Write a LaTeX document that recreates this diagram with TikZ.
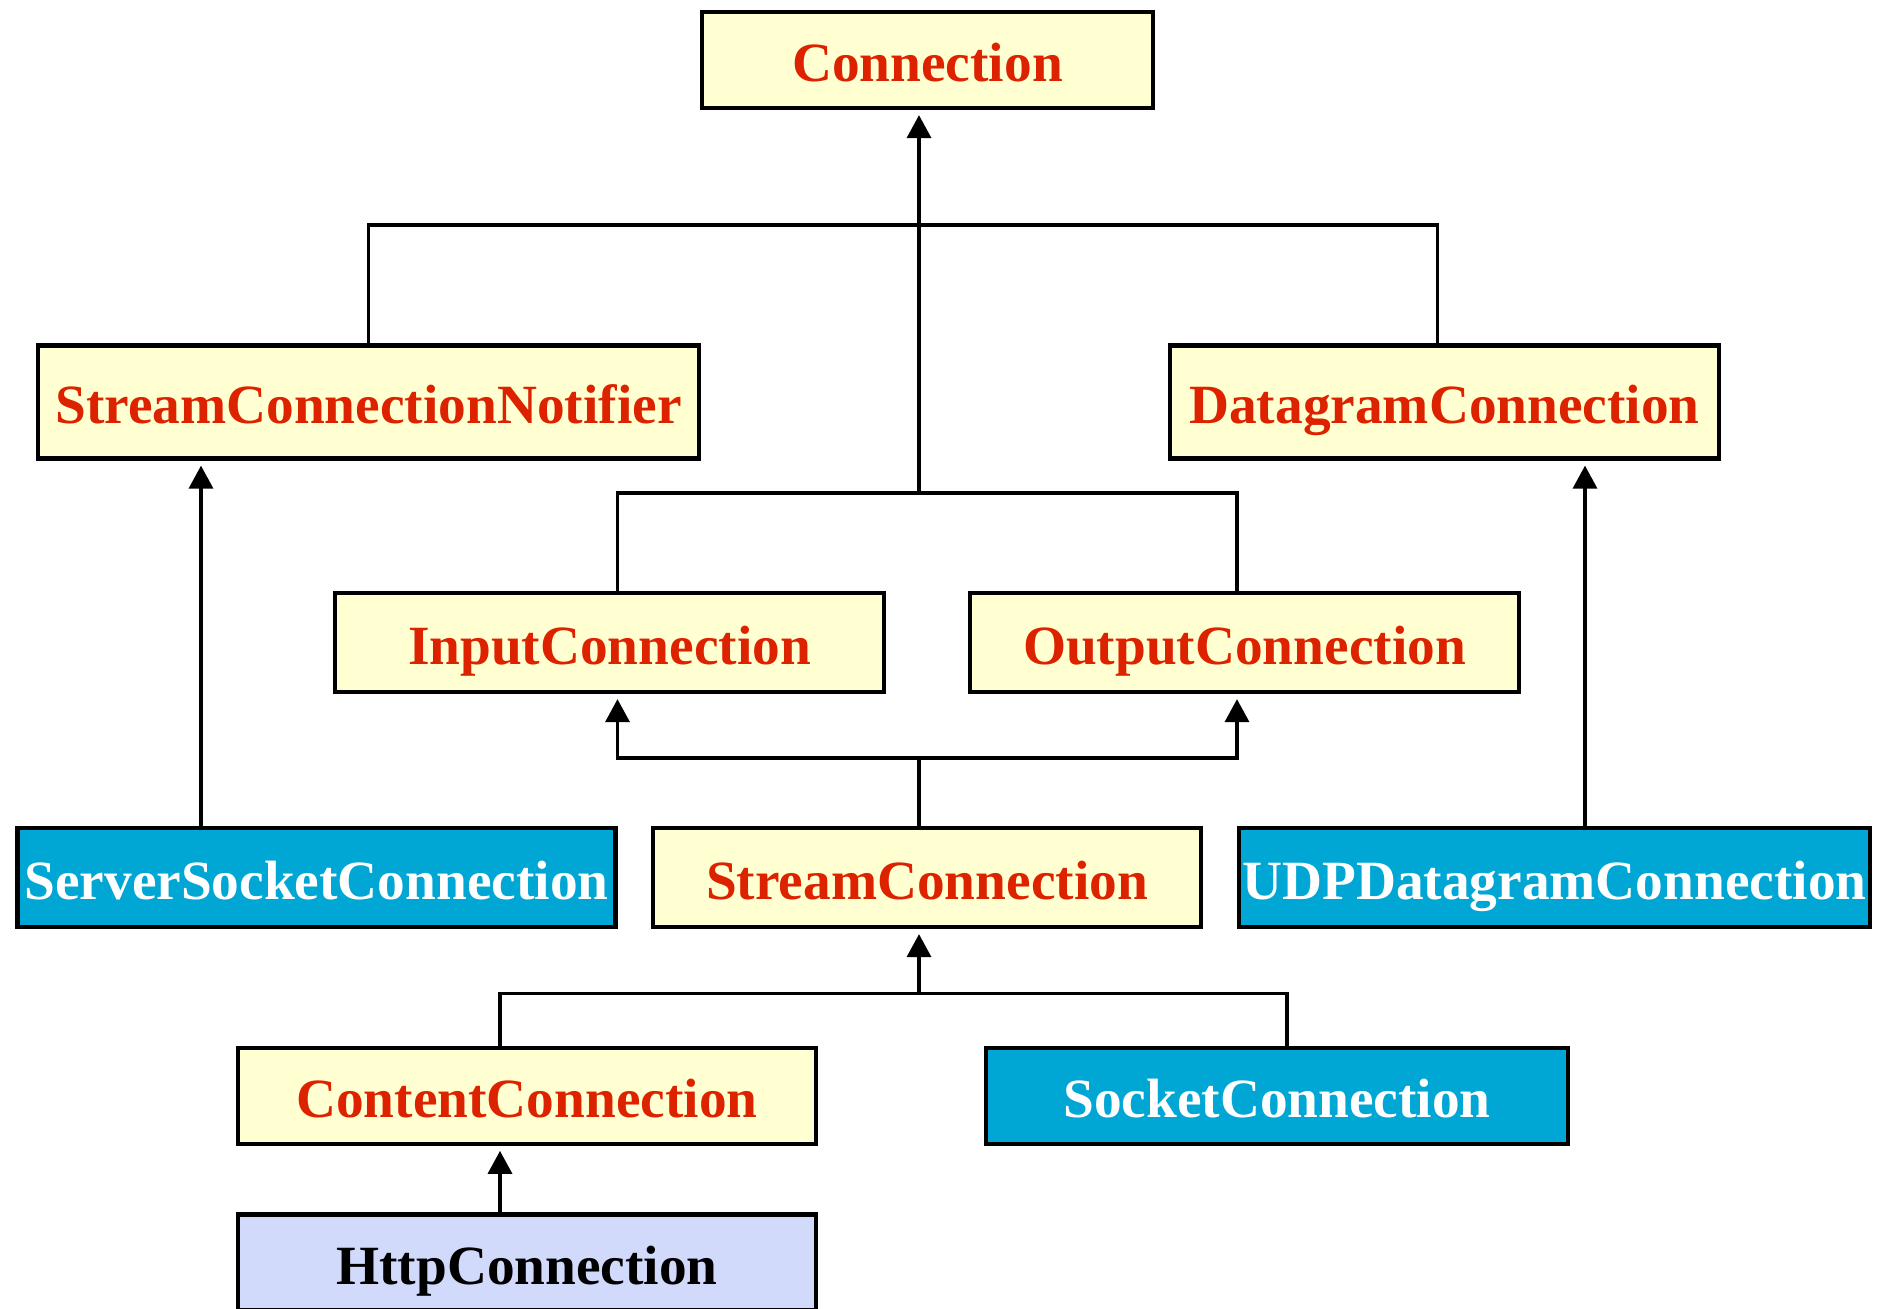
\documentclass[tikz,border=0pt]{standalone}
\usepackage{fontspec}
\setmainfont{Liberation Serif}
\usepackage{tikz}
\usetikzlibrary{arrows.meta,calc}
\usepackage{xcolor}
\definecolor{Cream}{HTML}{FFFFD2}
\definecolor{Vermilion}{HTML}{DD2200}
\definecolor{Cerulean}{HTML}{00A6D4}
\definecolor{Periwinkle}{HTML}{D2DAFC}
\tikzset{
  iface/.style={draw=black,line width=0.085cm,fill=Cream,text=Vermilion,
    font=\fontsize{31.5}{36}\selectfont\bfseries,inner sep=0pt,
    text height=24.5pt,text depth=0pt},
  impl/.style={iface,fill=Cerulean,text=white},
  http/.style={iface,fill=Periwinkle,text=black},
  link/.style={line width=0.07cm},
  isa/.style={link,-{Triangle[length=0.46cm,width=0.48cm]},shorten >=0.1cm}
}

\begin{document}
\begin{tikzpicture}
    \useasboundingbox (0,0) rectangle (37.54,-26.18);
    \clip (0,0) rectangle (37.54,-26.18);

    % interfaces
    \node[iface,minimum width=9.02cm,minimum height=1.92cm] (conn) at (18.55,-1.20) {Connection};
    \node[iface,minimum width=13.22cm,minimum height=2.26cm] (scn) at (7.37,-8.04) {StreamConnectionNotifier};
    \node[iface,minimum width=10.98cm,minimum height=2.26cm] (dgc) at (28.89,-8.04) {DatagramConnection};
    \node[iface,minimum width=10.98cm,minimum height=1.98cm] (inc) at (12.19,-12.85) {InputConnection};
    \node[iface,minimum width=10.98cm,minimum height=1.98cm] (outc) at (24.89,-12.85) {OutputConnection};
    \node[iface,minimum width=10.96cm,minimum height=1.98cm] (stc) at (18.54,-17.55) {StreamConnection};
    \node[iface,minimum width=11.55cm,minimum height=1.91cm] (ctc) at (10.54,-21.92) {ContentConnection};

    % implementations
    \node[impl,minimum width=11.96cm,minimum height=1.98cm] (ssc) at (6.33,-17.55) {ServerSocketConnection};
    \node[impl,minimum width=12.63cm,minimum height=1.98cm] (udp) at (31.09,-17.55) {UDPDatagramConnection};
    \node[impl,minimum width=11.65cm,minimum height=1.91cm] (skc) at (25.54,-21.92) {SocketConnection};
    \node[http,minimum width=11.55cm,minimum height=1.92cm] (htc) at (10.54,-25.25) {HttpConnection};

    % junctions of the branch lines
    \coordinate (top) at (18.38,-4.50);
    \coordinate (mid) at (18.38,-9.86);
    \coordinate (low) at (18.38,-15.16);
    \coordinate (bot) at (18.38,-19.87);
    \coordinate (dgx) at (28.75,0);
    \coordinate (inx) at (12.35,0);
    \coordinate (outx) at (24.74,0);
    \coordinate (sscx) at (4.02,0);
    \coordinate (udpx) at (31.70,0);
    \coordinate (ctx) at (10.00,0);
    \coordinate (skx) at (25.74,0);

    % Connection and its direct subtypes
    \draw[isa] (mid) -- (conn.south -| mid);
    \draw[link] (scn.north) |- (top) -- (top -| dgx) -- (dgc.north -| dgx);
    \draw[link] (inc.north -| inx) -- (mid -| inx) -- (mid -| outx) -- (outc.north -| outx);

    % StreamConnection
    \draw[link] (stc.north -| low) -- (low);
    \draw[isa] (low) -- (low -| inx) -- (inc.south -| inx);
    \draw[isa] (low) -- (low -| outx) -- (outc.south -| outx);

    % subtypes of StreamConnection
    \draw[isa] (bot) -- (stc.south -| bot);
    \draw[link] (ctc.north -| ctx) -- (bot -| ctx) -- (bot -| skx) -- (skc.north -| skx);

    % single inheritance arrows
    \draw[isa] (ssc.north -| sscx) -- (scn.south -| sscx);
    \draw[isa] (udp.north -| udpx) -- (dgc.south -| udpx);
    \draw[isa] (htc.north -| ctx) -- (ctc.south -| ctx);
\end{tikzpicture}
\end{document}
